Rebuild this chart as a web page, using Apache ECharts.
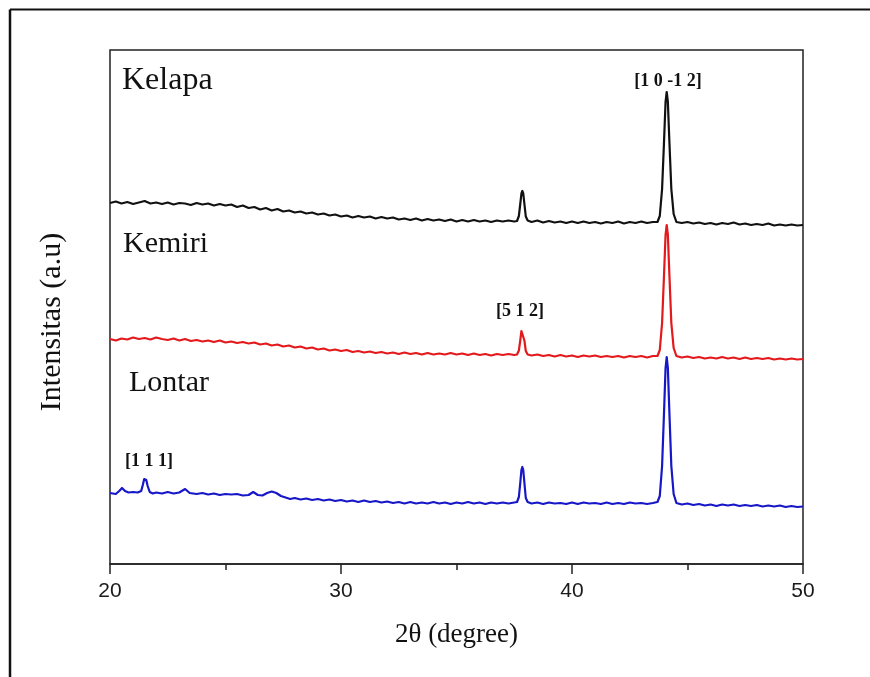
<!DOCTYPE html>
<html><head><meta charset="utf-8">
<script src="https://cdn.jsdelivr.net/npm/echarts@6/dist/echarts.min.js"></script>
<style>html,body{margin:0;padding:0;background:#fff}#c{width:870px;height:677px}</style>
</head><body><div id="c"></div>
<script>
// 2θ (degree), intensity (a.u., stacked offsets as drawn)
const kelapa = [
[20.00,361],[20.25,362.5],[20.50,360.5],[20.75,362],[21.00,360],[21.25,361.5],[21.50,363],[21.75,360.5],
[22.00,361.5],[22.25,360],[22.50,361.5],[22.75,359.5],[23.00,361],[23.25,360.5],[23.50,359],[23.75,361],
[24.00,359.5],[24.25,360.5],[24.50,358.5],[24.75,360],[25.00,358.5],[25.25,359.5],[25.50,357],[25.75,358.5],
[26.00,356],[26.25,357],[26.50,354.5],[26.75,356],[27.00,353.5],[27.25,355],[27.50,352.5],[27.75,353.5],
[28.00,351.5],[28.25,352.5],[28.50,350.5],[28.75,351.5],[29.00,349.5],[29.25,350.5],[29.50,348.5],[29.75,349.5],
[30.00,347.5],[30.25,348.5],[30.50,346.5],[30.75,348],[31.00,346.5],[31.25,347.5],[31.50,345.5],[31.75,347],
[32.00,345.5],[32.25,346.5],[32.50,344.5],[32.75,345.5],[33.00,344],[33.25,345.5],[33.50,343.5],[33.75,345],
[34.00,343.5],[34.25,344.5],[34.50,343],[34.75,344.5],[35.00,342.5],[35.25,344],[35.50,342.5],[35.75,344],
[36.00,342.5],[36.25,343.5],[36.50,342],[36.75,343.5],[37.00,342.5],[37.25,343.5],[37.50,342.5],[37.62,343],
[37.70,348],[37.76,360],[37.81,370.5],[37.85,373],[37.89,370.5],[37.94,360],[38.00,347.5],[38.08,343.5],
[38.25,342],[38.50,343.5],
[38.75,341.5],[39.00,343],[39.25,341.5],[39.50,342.5],[39.75,341],[40.00,342.5],[40.25,341],[40.50,342.5],
[40.75,341],[41.00,342],[41.25,340.5],[41.50,342],[41.75,341],[42.00,342.5],[42.25,340.5],[42.50,342],
[42.75,341],[43.00,342.5],[43.25,341],[43.50,342],[43.70,342],[43.80,348],[43.90,375],[43.98,420],
[44.05,462],[44.10,472],[44.15,462],[44.22,420],[44.30,375],[44.40,350],[44.52,342],[44.75,341],
[45.00,342],[45.25,340.5],
[45.50,341.5],[45.75,340],[46.00,341],[46.25,339.5],[46.50,341],[46.75,340],[47.00,341.5],[47.25,339.5],
[47.50,340.5],[47.75,339],[48.00,340],[48.25,339],[48.50,340.5],[48.75,338.5],[49.00,339.5],[49.25,338.5],
[49.50,339.5],[49.75,338.5],[50.00,339]
];
const kemiri = [
[20.00,225],[20.25,223.5],[20.50,225.5],[20.75,224.5],[21.00,226.5],[21.25,225],[21.50,226],[21.75,224.5],
[22.00,226.5],[22.25,225],[22.50,224],[22.75,225.5],[23.00,223.5],[23.25,225],[23.50,223],[23.75,224],
[24.00,222.5],[24.25,223.5],[24.50,222],[24.75,223.5],[25.00,221.5],[25.25,222.5],[25.50,221],[25.75,222],
[26.00,220.5],[26.25,221.5],[26.50,219.5],[26.75,220.5],[27.00,218.5],[27.25,219.5],[27.50,217.5],[27.75,218.5],
[28.00,216.5],[28.25,217.5],[28.50,215.5],[28.75,216.5],[29.00,214.5],[29.25,215.5],[29.50,213.5],[29.75,214.5],
[30.00,213],[30.25,214],[30.50,212],[30.75,213],[31.00,211.5],[31.25,212.5],[31.50,211],[31.75,212],
[32.00,210.5],[32.25,211.5],[32.50,210],[32.75,211.5],[33.00,210],[33.25,211],[33.50,209.5],[33.75,211],
[34.00,209.5],[34.25,210.5],[34.50,209.5],[34.75,211],[35.00,209.5],[35.25,210.5],[35.50,209],[35.75,210.5],
[36.00,209],[36.25,210],[36.50,208.5],[36.75,210],[37.00,209],[37.25,210],[37.50,209],[37.62,209.5],
[37.70,213.5],[37.76,223.5],[37.81,233],[37.85,235],[37.89,233],[37.94,223.5],[38.00,213],[38.08,209.5],
[38.25,208.5],[38.50,209.5],
[38.75,208],[39.00,209],[39.25,207.5],[39.50,209],[39.75,207.5],[40.00,208.5],[40.25,207],[40.50,208.5],
[40.75,207.5],[41.00,208.5],[41.25,207],[41.50,208],[41.75,207],[42.00,208],[42.25,206.5],[42.50,208],
[42.75,207],[43.00,208],[43.25,206.5],[43.50,208],[43.70,208],[43.80,214],[43.90,241],[43.98,287],
[44.05,329],[44.10,339],[44.15,329],[44.22,287],[44.30,241],[44.40,216],[44.52,208],[44.75,206.5],
[45.00,207.5],[45.25,206],
[45.50,207],[45.75,205.5],[46.00,206.5],[46.25,205.5],[46.50,207],[46.75,205.5],[47.00,206.5],[47.25,205],
[47.50,206.5],[47.75,205],[48.00,206],[48.25,205],[48.50,206],[48.75,204.5],[49.00,205.5],[49.25,204.5],
[49.50,205.5],[49.75,204.5],[50.00,205]
];
const lontar = [
[20.00,71],[20.25,70],[20.40,73],[20.52,76],[20.65,73],[20.80,71.5],[21.00,72],[21.20,71.5],
[21.35,73],[21.42,79],[21.48,85],[21.52,87],[21.57,84],[21.63,78],[21.72,72],[21.85,70.5],[22.00,71.5],[22.25,70.5],
[22.50,72],[22.75,70.5],[23.00,71.5],[23.25,75],[23.45,71],[23.75,70],[24.00,71],[24.25,69.5],
[24.50,70.5],[24.75,69],[25.00,70],[25.25,69.5],[25.50,70],[25.75,68.5],[26.00,69],[26.20,72],
[26.40,69],[26.60,68.5],[26.80,71],[27.00,72.5],[27.20,71],[27.40,68],[27.60,66.5],[27.80,65],
[28.00,66],[28.25,64.5],[28.50,65.5],[28.75,64],[29.00,65],[29.25,63.5],[29.50,64.5],[29.75,63],
[30.00,64],[30.25,62.5],[30.50,63.5],[30.75,62],[31.00,63.5],[31.25,62],[31.50,63],[31.75,61.5],
[32.00,62.5],[32.25,61],[32.50,62],[32.75,60.5],[33.00,62],[33.25,60.5],[33.50,61.5],[33.75,60.5],
[34.00,62],[34.25,60.5],[34.50,61.5],[34.75,60],[35.00,61.5],[35.25,60.5],[35.50,62],[35.75,60.5],
[36.00,61.5],[36.25,60],[36.50,61.5],[36.75,60.5],[37.00,61.5],[37.25,60.5],[37.50,61.5],[37.62,62],
[37.70,67],[37.76,81],[37.81,94],[37.85,97],[37.89,94],[37.94,81],[38.00,66],[38.08,62],
[38.25,60.5],[38.50,61.5],
[38.75,60],[39.00,61.5],[39.25,60.5],[39.50,61],[39.75,60],[40.00,61.5],[40.25,60],[40.50,61.5],
[40.75,60.5],[41.00,61],[41.25,60],[41.50,61.5],[41.75,60],[42.00,61],[42.25,60],[42.50,61.5],
[42.75,60.5],[43.00,61],[43.25,60],[43.50,61],[43.70,62],[43.80,68],[43.90,98],[43.98,149],
[44.05,196],[44.10,207],[44.15,196],[44.22,149],[44.30,98],[44.40,70],[44.52,61],[44.75,59.5],
[45.00,60.5],[45.25,59],
[45.50,60],[45.75,58.5],[46.00,59.5],[46.25,58],[46.50,59.5],[46.75,58.5],[47.00,59.5],[47.25,58],
[47.50,59],[47.75,58],[48.00,59],[48.25,57.5],[48.50,58.5],[48.75,57.5],[49.00,58.5],[49.25,57],
[49.50,58],[49.75,57],[50.00,57.5]
];
const xTicks = [20, 30, 40, 50];
const sampleNames = ['Kelapa', 'Kemiri', 'Lontar'];
const peakLabels = ['[1 0 -1 2]', '[5 1 2]', '[1 1 1]'];

const chart = echarts.init(document.getElementById('c'), null, {renderer: 'canvas'});
const serif = '"Liberation Serif","DejaVu Serif",serif';
const sans = '"Liberation Sans",Arial,sans-serif';
const mkLine = (name, data, color) => ({
  name, type: 'line', data, showSymbol: false, symbol: 'none', animation: false,
  lineStyle: {color, width: 2.2, join: 'round'}, itemStyle: {color}
});
chart.setOption({
  backgroundColor: '#fff',
  animation: false,
  grid: {left: 110, right: 67, top: 50, bottom: 113, show: true, borderColor: '#222', borderWidth: 1.5},
  xAxis: {
    type: 'value', min: xTicks[0], max: xTicks[xTicks.length - 1], interval: 10,
    axisLine: {show: true, lineStyle: {color: '#222', width: 1.5}},
    axisTick: {show: true, inside: false, length: 10, lineStyle: {color: '#222', width: 1.5}},
    minorTick: {show: true, splitNumber: 2, length: 6, lineStyle: {color: '#222', width: 1.5}},
    splitLine: {show: false},
    axisLabel: {fontFamily: sans, fontSize: 21, color: '#1a1a1a', margin: 17},
    name: '2θ (degree)', nameLocation: 'middle', nameGap: 57,
    nameTextStyle: {fontFamily: serif, fontSize: 27, color: '#111'}
  },
  yAxis: {
    type: 'value', min: 0, max: 514,
    axisLine: {show: false}, axisTick: {show: false}, axisLabel: {show: false}, splitLine: {show: false}
  },
  series: [
    mkLine(sampleNames[0], kelapa, '#111111'),
    mkLine(sampleNames[1], kemiri, '#e3191c'),
    mkLine(sampleNames[2], lontar, '#1717c8')
  ],
  graphic: [
    {type: 'line', shape: {x1: 10, y1: 9.5, x2: 870, y2: 9.5}, style: {stroke: '#111', lineWidth: 2}},
    {type: 'line', shape: {x1: 10, y1: 9.5, x2: 10, y2: 677}, style: {stroke: '#111', lineWidth: 2.5}},
    {type: 'text', x: 52, y: 322, rotation: Math.PI / 2,
      style: {text: 'Intensitas (a.u)', font: '30px ' + serif, fill: '#111', align: 'center', verticalAlign: 'middle'}},
    {type: 'text', left: 122, top: 65, style: {text: sampleNames[0], font: '32px ' + serif, fill: '#111'}},
    {type: 'text', left: 123, top: 229, style: {text: sampleNames[1], font: '30px ' + serif, fill: '#111'}},
    {type: 'text', left: 129, top: 368, style: {text: sampleNames[2], font: '30px ' + serif, fill: '#111'}},
    {type: 'text', x: 668, y: 81, style: {text: peakLabels[0], font: 'bold 18px ' + serif, fill: '#111', align: 'center', verticalAlign: 'middle'}},
    {type: 'text', x: 520, y: 311, style: {text: peakLabels[1], font: 'bold 18px ' + serif, fill: '#111', align: 'center', verticalAlign: 'middle'}},
    {type: 'text', x: 149, y: 461, style: {text: peakLabels[2], font: 'bold 18px ' + serif, fill: '#111', align: 'center', verticalAlign: 'middle'}}
  ]
});
</script></body></html>
